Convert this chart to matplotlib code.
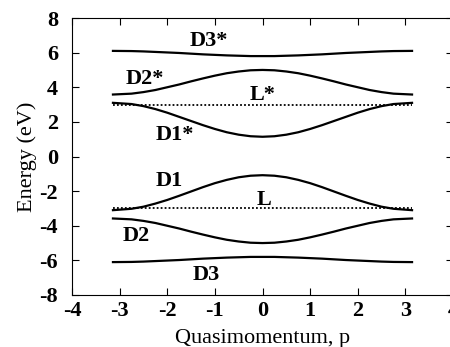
import matplotlib
matplotlib.use("Agg")
from matplotlib import pyplot as plt

plt.rcParams['font.family'] = ['Liberation Serif', 'DejaVu Serif']
plt.rcParams['axes.unicode_minus'] = False

# quasimomentum samples (0 .. pi, mirrored below) and band energies
p_half = [0.0, 0.25, 0.5, 0.75, 1.0, 1.25, 1.5, 1.75, 2.0, 2.25, 2.5, 2.75, 3.14]

d3_star_half = [5.80, 5.80, 5.82, 5.84, 5.87, 5.90, 5.94, 5.98, 6.01, 6.04, 6.07, 6.09, 6.10]
d2_star_half = [5.00, 4.98, 4.91, 4.81, 4.67, 4.51, 4.34, 4.16, 4.00, 3.84, 3.72, 3.63, 3.58]
d1_star_half = [1.14, 1.17, 1.26, 1.40, 1.59, 1.81, 2.05, 2.29, 2.53, 2.74, 2.91, 3.03, 3.10]
d1_half = [-1.08, -1.11, -1.20, -1.35, -1.54, -1.77, -2.02, -2.27, -2.51, -2.72, -2.90, -3.02, -3.10]
d2_half = [-5.00, -4.98, -4.91, -4.81, -4.67, -4.51, -4.34, -4.16, -4.00, -3.84, -3.72, -3.63, -3.58]
d3_half = [-5.80, -5.80, -5.82, -5.84, -5.87, -5.90, -5.94, -5.98, -6.01, -6.04, -6.07, -6.09, -6.10]

l_p = [-3.14, 3.14]
l_star = [3.0, 3.0]
l = [-3.0, -3.0]

labels = ['D3*', 'D2*', 'L*', 'D1*', 'D1', 'L', 'D2', 'D3']
label_x = [-1.12, -2.48, 0.0, -1.85, -1.96, 0.04, -2.66, -1.19]
label_y = [6.66, 4.45, 3.58, 1.27, -1.43, -2.49, -4.6, -6.82]


def mirror(xs, ys):
    # bands are symmetric in p
    return [-x for x in xs[:0:-1]] + xs, ys[:0:-1] + ys


fig = plt.figure(figsize=(4.5, 3.47), dpi=100)
ax = fig.add_axes([72/450, 52/347, 381/450, 277/347])

for band in [d3_star_half, d2_star_half, d1_star_half, d1_half, d2_half, d3_half]:
    xs, ys = mirror(p_half, band)
    ax.plot(xs, ys, color='black', lw=1.6)
ax.plot(l_p, l_star, color='black', lw=1.3, ls=(0, (1, 1.2)))
ax.plot(l_p, l, color='black', lw=1.3, ls=(0, (1, 1.2)))

for txt, x, y in zip(labels, label_x, label_y):
    ax.text(x, y, txt, ha='center', va='center', fontsize=16, fontweight='bold')

ax.set_xlim(-4, 4)
ax.set_ylim(-8, 8)
ax.set_xticks(range(-4, 5))
ax.set_yticks(range(-8, 9, 2))
ax.tick_params(direction='in', top=True, right=True, length=5, width=0.8,
               labelsize=16)
ax.tick_params(axis='x', pad=4)
ax.tick_params(axis='y', pad=10)
for lab in ax.get_xticklabels() + ax.get_yticklabels():
    lab.set_fontweight('bold')
ax.set_xlabel('Quasimomentum, p', fontsize=16, labelpad=6)
ax.set_ylabel('Energy (eV)', fontsize=16, labelpad=2)

fig.savefig('out.png', dpi=100)
